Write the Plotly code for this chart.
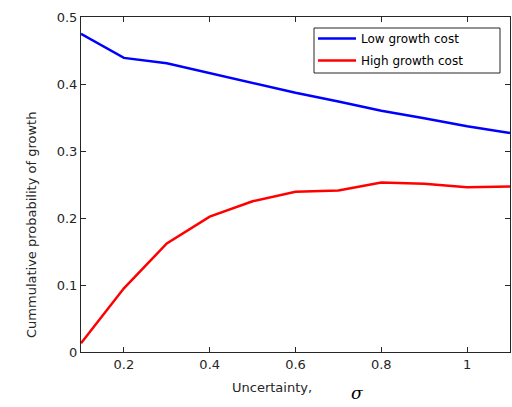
import plotly.graph_objects as go

sigma = [0.1, 0.2, 0.3, 0.4, 0.5, 0.6, 0.7, 0.8, 0.9, 1.0, 1.1]
low_cost = [0.475, 0.439, 0.431, 0.416, 0.401, 0.387, 0.374, 0.360, 0.349, 0.337, 0.327]
high_cost = [0.013, 0.095, 0.162, 0.202, 0.225, 0.239, 0.241, 0.253, 0.251, 0.246, 0.247]
x_ticks = [0.2, 0.4, 0.6, 0.8, 1.0]
x_labels = ["0.2", "0.4", "0.6", "0.8", "1"]
y_ticks = [0, 0.1, 0.2, 0.3, 0.4, 0.5]
y_labels = ["0", "0.1", "0.2", "0.3", "0.4", "0.5"]

axc = "#262626"
fam = "DejaVu Sans, Verdana, sans-serif"
fnt = dict(family=fam, size=13, color=axc)

W, H = 512, 407
L, R, T, B = 81, 2, 17, 55
pw, ph = W - L - R, H - T - B


def px(xp):
    return (xp - L) / pw


def py(yp):
    return (H - B - yp) / ph


fig = go.Figure()
fig.add_trace(go.Scatter(x=sigma, y=low_cost, mode="lines", name="Low growth cost",
                         legendgroup="a", line=dict(color="#0000FF", width=2.5)))
fig.add_trace(go.Scatter(x=sigma, y=high_cost, mode="lines", name="High growth cost",
                         legendgroup="b", line=dict(color="#FF0000", width=2.5)))

# legend frame
fig.add_shape(type="rect", xref="paper", yref="paper",
              x0=px(314), x1=px(500), y0=py(73), y1=py(28),
              line=dict(color=axc, width=1), fillcolor="white", layer="above")

fig.update_layout(
    width=W, height=H,
    margin=dict(l=L, r=R, t=T, b=B),
    paper_bgcolor="white", plot_bgcolor="white",
    font=fnt,
    showlegend=True,
    legend=dict(x=px(313), y=py(24), xanchor="left", yanchor="top",
                borderwidth=0, bgcolor="rgba(0,0,0,0)",
                font=dict(family=fam, size=12, color="black"),
                tracegroupgap=3, itemwidth=38),
    xaxis=dict(range=[0.1, 1.1], tickvals=x_ticks, ticktext=x_labels,
               ticks="inside", ticklen=5, tickcolor=axc, mirror="ticks",
               showline=True, linecolor=axc, linewidth=1, showgrid=False,
               zeroline=False, tickfont=fnt),
    yaxis=dict(range=[0, 0.5], tickvals=y_ticks, ticktext=y_labels,
               ticks="inside", ticklen=5, tickcolor=axc, mirror="ticks",
               showline=True, linecolor=axc, linewidth=1, showgrid=False,
               zeroline=False, tickfont=fnt),
)

fig.add_annotation(xref="paper", yref="paper", x=px(31), y=py(225),
                   text="Cummulative probability of growth", textangle=-90,
                   showarrow=False, font=fnt, xanchor="center", yanchor="middle")
fig.add_annotation(xref="paper", yref="paper", x=px(272), y=py(387),
                   text="Uncertainty,", showarrow=False, font=fnt,
                   xanchor="center", yanchor="middle")
fig.add_annotation(xref="paper", yref="paper", x=px(357), y=py(393),
                   text="<i>σ</i>", showarrow=False,
                   font=dict(family="DejaVu Serif, Liberation Serif, serif", size=17, color="black"),
                   xanchor="center", yanchor="middle")

fig.write_html("out.html", config={"displayModeBar": False},
               post_script="document.body.style.margin='0';document.body.style.overflow='hidden';")
